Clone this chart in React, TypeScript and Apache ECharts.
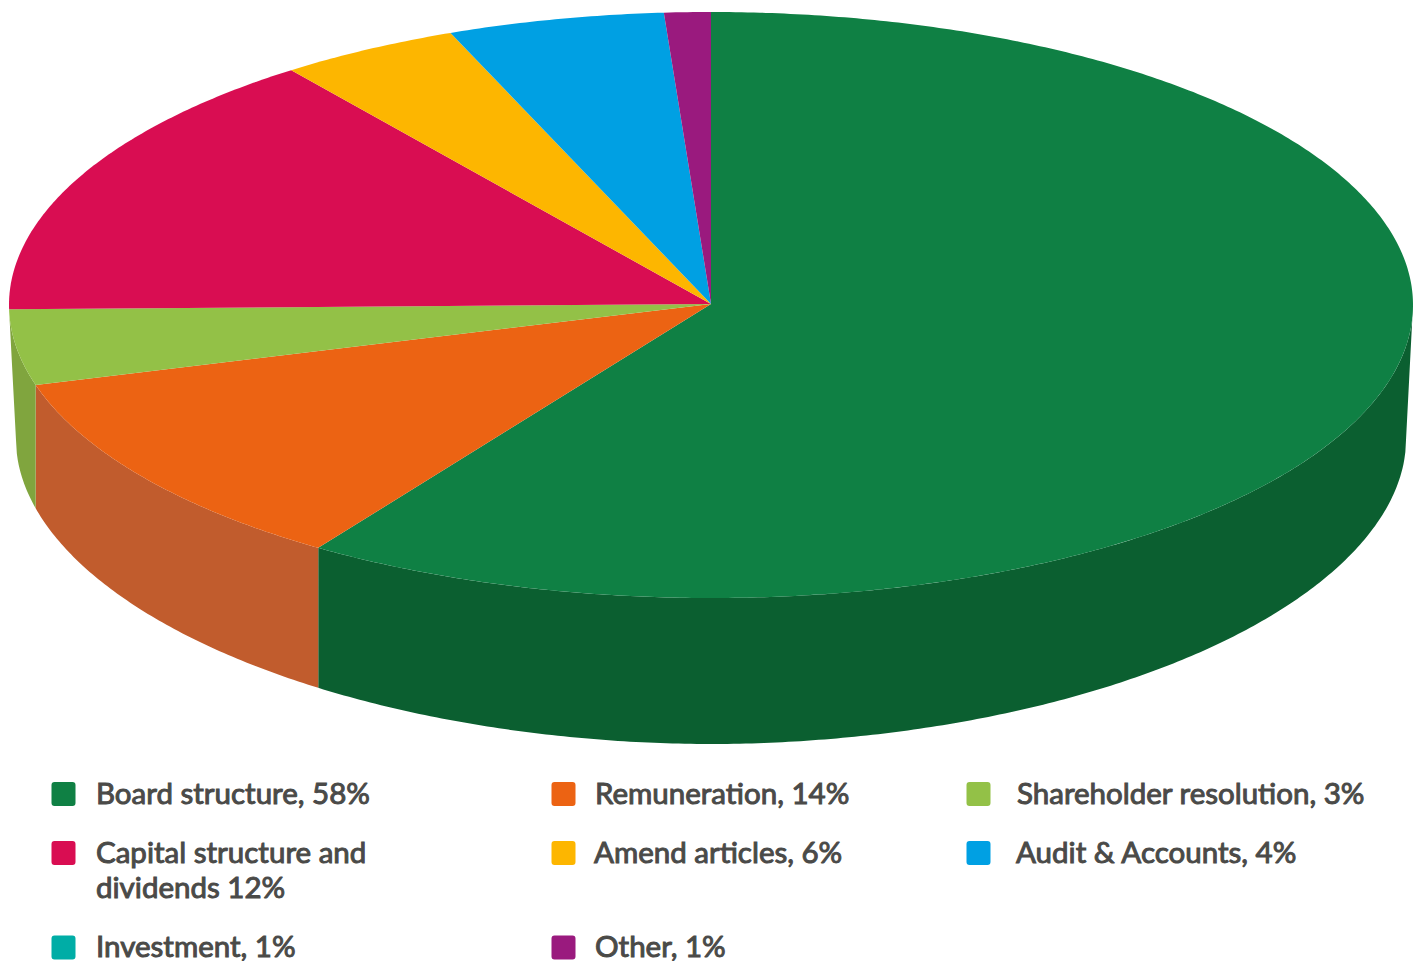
import React, { useEffect, useRef } from "react";
import * as echarts from "echarts";

// Legend wording as printed
const legendLabels = [
  "Board structure, 58%",
  "Remuneration, 14%",
  "Shareholder resolution, 3%",
  "Capital structure and\ndividends 12%",
  "Amend articles, 6%",
  "Audit & Accounts, 4%",
  "Investment, 1%",
  "Other, 1%",
];
// Share of the circle each slice takes in the drawing (%), clockwise from 12 o'clock
const drawnShares = [59.45, 11.15, 4.17, 15.03, 4.15, 4.98, 0, 1.07];
const topColors = ["#0f8044", "#ec6313", "#93c147", "#d90d52", "#fdb600", "#00a0e3", "#00ada6", "#9a1a7e"];
const sideColors = ["#0b5f30", "#c15c2d", "#80a53e", "#a50a3e", "#c08a00", "#007aad", "#00837e", "#751560"];

// Layout: top of each colour key; the label block sits round it, so the legend box starts higher
const legendLeft = [51.5, 551.5, 966.5, 51.5, 551.5, 966.5, 51.5, 551.5];
const keyTop = [782, 782, 782, 841, 841, 841, 935.5, 935.5];
const textGap = [20.5, 19.5, 26.5, 20.5, 18.5, 25.5, 20.5, 19.5];
const LINE = 35;
const KEY_LIFT = 4;

const CX = 711, CY = 305, RX = 702, RY = 293, HUB_Y = 304;
const SIDE_RX = 695, SIDE_CY = 440, SIDE_RY = 304, SIDE_P = 1.95;
const SIDE_FROM = 90, SIDE_TO = 269.2;
// A rounded square with an empty sub-path above it, which sets the key 2px below the label's middle
const ICON = "path://M0,-4L0,-4ZM3,0H21A3,3 0 0 1 24,3V21A3,3 0 0 1 21,24H3A3,3 0 0 1 0,21V3A3,3 0 0 1 3,0Z";

const topPoint = (deg: number) => {
  const t = (deg * Math.PI) / 180;
  return [CX + RX * Math.sin(t), CY - RY * Math.cos(t)];
};
const bottomPoint = (x: number) => {
  const dx = Math.min(SIDE_RX, Math.abs(x - CX));
  const px = CX + Math.sign(x - CX) * dx;
  const u = dx / SIDE_RX;
  return [px, SIDE_CY + SIDE_RY * Math.pow(1 - Math.pow(u, SIDE_P), 1 / SIDE_P)];
};
const sweep = (a: number, b: number) => {
  const n = Math.max(2, Math.ceil(Math.abs(b - a) * 2));
  return Array.from({ length: n + 1 }, (_, i) => a + ((b - a) * i) / n);
};

const makeSeries = () => {
  let acc = 0;
  return legendLabels.map((name, i) => {
    const start = (acc / 100) * 360;
    acc += drawnShares[i];
    const end = (acc / 100) * 360;
    return {
      type: "custom",
      name,
      coordinateSystem: "none",
      silent: true,
      itemStyle: { color: topColors[i] },
      data: [[start, end]],
      renderItem: (_p: any, api: any) => {
        const a = api.value(0), b = api.value(1);
        const children: any[] = [];
        const sa = Math.max(a, SIDE_FROM), sb = Math.min(b, SIDE_TO);
        if (sb - sa > 0.5) {
          const upper = sweep(sa, sb).map(topPoint);
          const lower = upper.map((p) => bottomPoint(p[0])).reverse();
          children.push({
            type: "polygon",
            shape: { points: [...upper, ...lower] },
            style: { fill: sideColors[i] },
          });
        }
        if (b - a > 0.01) {
          children.push({
            type: "polygon",
            shape: { points: [[CX, HUB_Y], ...sweep(a, b).map(topPoint)] },
            style: { fill: topColors[i] },
          });
        }
        return { type: "group", children };
      },
    };
  });
};

export default function App() {
  const ref = useRef<HTMLDivElement>(null);
  useEffect(() => {
    document.body.style.margin = "0";
    const chart = echarts.init(ref.current!, null, { renderer: "svg" });
    chart.setOption({
      animation: false,
      backgroundColor: "#ffffff",
      legend: legendLabels.map((name, i) => {
        const twoLines = name.includes("\n");
        const keyBox = 24 + KEY_LIFT;
        return {
          left: legendLeft[i],
          top: keyTop[i] - KEY_LIFT - (LINE * 3 - keyBox) / 2,
          padding: 0,
          itemWidth: 24,
          itemHeight: keyBox,
          selectedMode: false,
          data: [{ name, icon: ICON, itemStyle: { color: topColors[i] } }],
          formatter: (n: string) => (twoLines ? " \n" + n : " \n" + n + "\n "),
          textStyle: {
            fontFamily: "Lato",
            fontSize: 29.5,
            fontWeight: 400,
            color: "#4a4a48",
            textBorderColor: "#4a4a48",
            textBorderWidth: 1,
            lineHeight: LINE,
            padding: [0, 0, 0, textGap[i] - 5],
          },
        };
      }),
      series: makeSeries(),
    });
    return () => chart.dispose();
  }, []);
  return <div ref={ref} style={{ position: "absolute", left: 0, top: 0, width: 1422, height: 961 }} />;
}
